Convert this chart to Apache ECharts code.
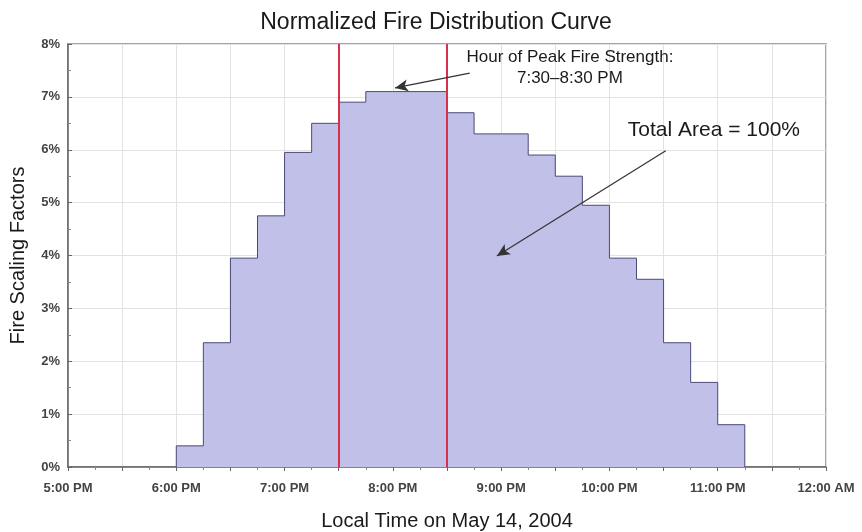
<!DOCTYPE html>
<html>
<head>
<meta charset="utf-8">
<script src="https://cdn.jsdelivr.net/npm/echarts@6/dist/echarts.min.js"></script>
<style>html,body{margin:0;padding:0;background:#fff}#c{width:862px;height:532px}</style>
</head>
<body>
<div id="c"></div>
<script>
// Interval start times (hours, 24h clock), 15-minute bins
const binStarts = [18, 18.25, 18.5, 18.75, 19, 19.25, 19.5, 19.75, 20, 20.25, 20.5, 20.75, 21, 21.25, 21.5, 21.75, 22, 22.25, 22.5, 22.75, 23];
const binEnd = 23.25;
// Fire scaling factors (%)
const factors = [0.4, 2.35, 3.95, 4.75, 5.95, 6.5, 6.9, 7.1, 7.1, 7.1, 6.7, 6.3, 6.3, 5.9, 5.5, 4.95, 3.95, 3.55, 2.35, 1.6, 0.8];
const peakHour = [19.5, 20.5];
const xTickLabels = {17:'5:00 PM',18:'6:00 PM',19:'7:00 PM',20:'8:00 PM',21:'9:00 PM',22:'10:00 PM',23:'11:00 PM',24:'12:00 AM'};
const peakNote = 'Hour of Peak Fire Strength:\n7:30\u20138:30 PM';
const areaNote = 'Total Area = 100%';
// annotation anchor points in data space [hour, %]
const peakArrow = [[20.71, 7.45], [20.02, 7.17]];
const areaArrow = [[22.52, 5.98], [20.96, 3.99]];
const peakTextAt = [21.635, 7.55];
const areaTextAt = [22.965, 6.37];

const FONT = '"Liberation Sans", Arial, sans-serif';
const pts = [[binStarts[0], 0]];
binStarts.forEach((t, i) => pts.push([t, factors[i]]));
pts.push([binEnd, factors[factors.length - 1]]);
pts.push([binEnd, 0]);

const chart = echarts.init(document.getElementById('c'));
chart.setOption({
  backgroundColor: '#fff',
  animation: false,
  title: {
    text: 'Normalized Fire Distribution Curve',
    left: 431, top: 6, textAlign: 'center',
    textStyle: {fontFamily: FONT, fontSize: 23, fontWeight: 'normal', color: '#1a1a1a'}
  },
  grid: {left: 68, right: 36, top: 44, bottom: 65, show: true, borderColor: '#888', borderWidth: 1.5,
    containLabel: false, outerBoundsMode: 'none'},
  xAxis: {
    type: 'value', min: 17, max: 24, interval: 0.5,
    name: 'Local Time on May 14, 2004', nameLocation: 'middle', nameGap: 44,
    nameTextStyle: {fontFamily: FONT, fontSize: 20, color: '#1a1a1a'},
    axisLine: {show: true, onZero: false, lineStyle: {color: '#666', width: 1.5}},
    axisTick: {show: true, length: 4, lineStyle: {color: '#666'}},
    minorTick: {show: true, splitNumber: 2, length: 3, lineStyle: {color: '#888'}},
    axisLabel: {fontFamily: FONT, fontSize: 13, fontWeight: 'bold', color: '#444', margin: 15,
      formatter: v => xTickLabels[v] || ''},
    splitLine: {show: true, lineStyle: {color: '#e2e2e2', width: 1}}
  },
  yAxis: {
    type: 'value', min: 0, max: 8, interval: 1,
    name: 'Fire Scaling Factors', nameLocation: 'middle', nameGap: 40,
    nameTextStyle: {fontFamily: FONT, fontSize: 20, color: '#1a1a1a'},
    axisLine: {show: true, lineStyle: {color: '#666', width: 1.5}},
    axisTick: {show: true, inside: true, length: 4, lineStyle: {color: '#666'}},
    minorTick: {show: true, splitNumber: 2, length: 3, lineStyle: {color: '#888'}},
    axisLabel: {fontFamily: FONT, fontSize: 13, fontWeight: 'bold', color: '#444', margin: 8, formatter: v => v + '%'},
    splitLine: {show: true, lineStyle: {color: '#e2e2e2', width: 1}}
  },
  series: [{
    type: 'line',
    data: pts,
    step: 'end',
    symbol: 'none',
    lineStyle: {color: '#4a4a78', width: 1},
    areaStyle: {color: '#c0c0e8', opacity: 1},
    z: 2,
    markLine: {
      silent: true, symbol: 'none', animation: false,
      label: {show: false},
      lineStyle: {color: '#d6304c', width: 2, type: 'solid'},
      data: peakHour.map(h => ({xAxis: h}))
    }
  }, {
    type: 'line', data: [], z: 5,
    markLine: {
      silent: true, animation: false,
      symbol: ['none', 'arrow'], symbolSize: [9, 13],
      label: {show: false},
      lineStyle: {color: '#333', width: 1.2, type: 'solid'},
      data: [
        [{coord: peakArrow[0]}, {coord: peakArrow[1]}],
        [{coord: areaArrow[0]}, {coord: areaArrow[1]}]
      ]
    },
    markPoint: {
      silent: true, animation: false, symbolSize: 0,
      data: [
        {coord: peakTextAt, label: {show: true, formatter: peakNote, align: 'center', verticalAlign: 'middle',
          fontFamily: FONT, fontSize: 17, lineHeight: 21, color: '#1a1a1a'}},
        {coord: areaTextAt, label: {show: true, formatter: areaNote, align: 'center', verticalAlign: 'middle',
          fontFamily: FONT, fontSize: 21, color: '#1a1a1a'}}
      ]
    }
  }]
});
</script>
</body>
</html>
